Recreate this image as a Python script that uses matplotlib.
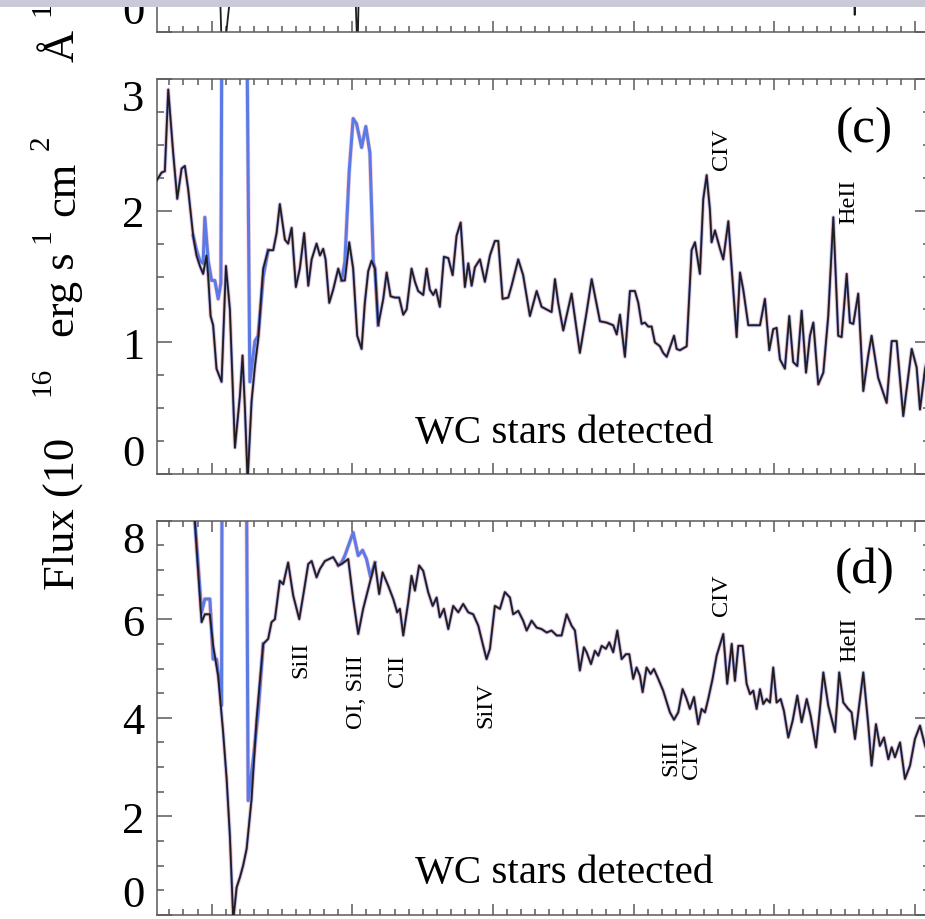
import numpy as np
import matplotlib
matplotlib.use("Agg")
from matplotlib import pyplot as plt
from matplotlib.ticker import MultipleLocator
from matplotlib.patches import Rectangle

# ---- panel (c): wavelength (A) and flux ----
wl_c = [1161.0, 1164.5, 1166.8, 1169.2, 1172.7, 1175.6, 1178.7, 1181.0, 1183.4, 1186.9,
        1189.3, 1191.7, 1194.0, 1196.4, 1197.6, 1199.3, 1201.1, 1203.5, 1207.1, 1210.2,
        1213.0, 1216.6, 1220.1, 1222.0, 1223.7, 1225.6, 1228.4, 1230.8, 1233.1, 1236.7,
        1240.2, 1243.8, 1246.2, 1248.5, 1252.1, 1254.4, 1256.9, 1259.9, 1262.7, 1265.8,
        1268.7, 1271.1, 1274.6, 1277.0, 1279.3, 1281.0, 1283.6, 1286.4, 1290.0, 1292.4,
        1294.7, 1297.8, 1300.6, 1303.5, 1306.6, 1308.9, 1311.3, 1313.7, 1316.1, 1318.4,
        1322.0, 1324.4, 1327.2, 1330.3, 1333.3, 1336.2, 1338.6, 1342.1, 1344.5, 1346.8,
        1350.4, 1352.8, 1355.1, 1357.5, 1359.4, 1362.2, 1365.1, 1368.2, 1371.3, 1374.1,
        1377.0, 1380.0, 1382.4, 1384.8, 1387.1, 1390.7, 1394.2, 1397.8, 1401.3, 1403.7,
        1406.8, 1410.8, 1413.2, 1417.9, 1421.4, 1426.2, 1431.0, 1434.5, 1438.1, 1441.6,
        1444.0, 1446.3, 1449.9, 1455.8, 1461.7, 1466.5, 1470.1, 1476.0, 1480.7, 1485.4,
        1487.9, 1490.2, 1493.7, 1497.3, 1500.8, 1503.2, 1505.6, 1507.9, 1510.3, 1512.7,
        1515.0, 1518.6, 1520.9, 1523.4, 1525.7, 1528.6, 1530.5, 1532.8, 1537.6, 1541.1,
        1543.5, 1547.0, 1549.4, 1551.8, 1554.1, 1555.3, 1557.7, 1561.3, 1563.6, 1567.2,
        1569.6, 1573.1, 1575.5, 1577.8, 1581.4, 1584.9, 1589.7, 1593.2, 1596.3, 1599.1,
        1601.5, 1603.9, 1607.4, 1610.5, 1613.3, 1616.2, 1619.3, 1622.4, 1625.2, 1627.6,
        1631.1, 1634.7, 1638.2, 1641.8, 1645.3, 1647.7, 1651.3, 1653.6, 1656.0, 1659.5,
        1663.1, 1666.6, 1669.0, 1673.7, 1679.7, 1683.3, 1686.8, 1691.5, 1697.5, 1701.0,
        1703.4, 1707.0, 1710.5]
flux_c = [2.23, 2.29, 2.30, 2.92, 2.44, 2.09, 2.32, 2.34, 2.16, 1.81,
          1.66, 1.58, 1.52, 1.66, 1.50, 1.20, 1.13, 0.80, 0.70, 1.58,
          1.25, 0.20, 0.59, 0.90, 0.50, -0.05, 0.55, 0.82, 1.02, 1.56,
          1.70, 1.70, 1.83, 2.05, 1.78, 1.75, 1.87, 1.42, 1.56, 1.83,
          1.43, 1.63, 1.75, 1.66, 1.71, 1.63, 1.30, 1.40, 1.56, 1.47,
          1.47, 1.76, 1.56, 1.05, 0.95, 1.30, 1.54, 1.62, 1.56, 1.13,
          1.33, 1.53, 1.35, 1.34, 1.34, 1.21, 1.25, 1.56, 1.46, 1.39,
          1.36, 1.56, 1.40, 1.36, 1.40, 1.27, 1.65, 1.64, 1.51, 1.81,
          1.91, 1.42, 1.60, 1.43, 1.57, 1.63, 1.46, 1.66, 1.77, 1.77,
          1.33, 1.34, 1.43, 1.63, 1.51, 1.20, 1.39, 1.27, 1.25, 1.23,
          1.48, 1.30, 1.09, 1.37, 0.92, 1.23, 1.48, 1.16, 1.15, 1.13,
          1.06, 1.21, 0.89, 1.39, 1.39, 1.30, 1.14, 1.15, 1.12, 1.12,
          1.00, 0.97, 0.92, 0.89, 0.96, 1.05, 0.95, 0.94, 0.97, 1.70,
          1.76, 1.52, 2.09, 2.27, 2.01, 1.76, 1.85, 1.71, 1.63, 1.92,
          1.56, 1.04, 1.53, 1.40, 1.13, 1.13, 1.13, 1.33, 0.94, 1.10,
          1.11, 0.87, 0.80, 1.20, 0.85, 0.82, 1.24, 0.77, 1.05, 1.15,
          0.68, 0.77, 1.20, 1.95, 1.05, 1.04, 1.52, 1.15, 1.14, 1.37,
          0.63, 0.90, 1.05, 0.73, 0.54, 1.01, 1.01, 0.44, 0.95, 0.81,
          0.49, 0.80, 0.95]

# blue spectrum where it departs from the black one
wl_c_blue1 = [1186.9, 1189.3, 1191.7, 1194.0, 1195.2, 1197.6, 1200.0, 1202.3, 1204.7,
              1206.6, 1207.5, 1216.0, 1224.6, 1227.2, 1230.8, 1233.1, 1236.7, 1240.2]
flux_c_blue1 = [1.81, 1.70, 1.62, 1.60, 1.95, 1.62, 1.47, 1.47, 1.33,
                1.45, 4.00, 4.00, 4.00, 0.70, 1.01, 1.05, 1.50, 1.70]
wl_c_blue2 = [1292.4, 1294.7, 1297.8, 1300.6, 1303.0, 1306.6, 1309.6, 1312.5, 1314.9,
              1316.1, 1318.4]
flux_c_blue2 = [1.47, 1.61, 2.30, 2.70, 2.66, 2.48, 2.64, 2.44, 1.61,
                1.56, 1.13]

# ---- panel (d) ----
wl_d = [1186.7, 1188.1, 1192.9, 1195.2, 1198.8, 1201.1, 1204.7, 1208.2, 1210.7, 1213.0,
        1215.4, 1217.8, 1220.1, 1222.4, 1224.9, 1228.4, 1232.0, 1236.7, 1240.2, 1242.6,
        1245.0, 1248.5, 1250.9, 1254.4, 1258.0, 1262.3, 1265.1, 1268.7, 1271.1, 1274.6,
        1277.0, 1280.5, 1286.4, 1290.0, 1292.4, 1297.1, 1300.6, 1304.2, 1307.7, 1312.5,
        1316.1, 1319.1, 1321.5, 1325.5, 1329.1, 1331.9, 1333.8, 1336.2, 1339.7, 1342.1,
        1344.5, 1347.5, 1350.4, 1353.9, 1357.1, 1359.9, 1362.2, 1365.1, 1368.2, 1371.7,
        1375.3, 1378.8, 1382.4, 1385.9, 1389.5, 1393.0, 1395.4, 1397.8, 1401.3, 1404.9,
        1408.4, 1412.0, 1414.3, 1417.9, 1421.4, 1423.9, 1427.4, 1431.0, 1434.5, 1438.1,
        1441.6, 1445.2, 1448.7, 1452.3, 1455.8, 1458.2, 1461.7, 1464.6, 1466.5, 1469.6,
        1472.4, 1474.8, 1477.2, 1480.2, 1482.6, 1485.4, 1488.3, 1491.4, 1494.4, 1496.8,
        1499.6, 1502.0, 1504.4, 1506.3, 1509.1, 1512.0, 1514.3, 1517.4, 1520.9, 1525.7,
        1528.6, 1531.6, 1534.7, 1537.1, 1539.9, 1542.8, 1545.8, 1548.2, 1550.6, 1552.9,
        1556.0, 1558.9, 1563.6, 1566.4, 1569.6, 1571.9, 1574.3, 1577.4, 1580.2, 1582.6,
        1584.9, 1587.3, 1589.7, 1592.0, 1594.4, 1596.8, 1599.1, 1601.5, 1604.4, 1606.7,
        1609.8, 1612.9, 1616.2, 1619.3, 1622.9, 1625.7, 1629.5, 1631.8, 1634.7, 1638.2,
        1643.0, 1646.0, 1648.9, 1652.4, 1654.8, 1657.2, 1660.2, 1663.1, 1666.6, 1669.0,
        1672.1, 1674.9, 1677.8, 1680.9, 1683.3, 1685.6, 1689.2, 1692.7, 1696.3, 1699.8,
        1703.4, 1707.0, 1710.5]
flux_d = [8.6, 8.0, 5.94, 6.10, 6.10, 5.46, 4.85, 3.71, 2.76, 1.61,
          -0.1, 0.56, 0.76, 1.00, 1.34, 2.35, 3.98, 5.50, 5.60, 5.94,
          6.00, 6.78, 6.71, 7.15, 6.48, 6.00, 6.48, 7.12, 7.18, 6.85,
          7.02, 7.18, 7.26, 7.09, 7.12, 7.22, 6.41, 5.70, 6.21, 6.75,
          7.15, 6.51, 6.95, 6.68, 6.41, 6.14, 6.21, 5.67, 6.34, 6.88,
          6.58, 7.09, 6.98, 6.55, 6.27, 6.44, 6.04, 6.21, 5.80, 6.27,
          6.14, 6.31, 6.14, 6.10, 5.87, 5.46, 5.19, 5.40, 6.27, 6.21,
          6.55, 6.44, 6.10, 6.17, 5.97, 5.77, 5.97, 5.83, 5.80, 5.73,
          5.77, 5.67, 5.67, 6.10, 5.87, 5.77, 4.96, 5.43, 5.33, 5.09,
          5.36, 5.26, 5.46, 5.40, 5.53, 5.33, 5.77, 5.19, 5.29, 5.29,
          4.79, 5.02, 4.85, 4.52, 5.02, 4.89, 4.99, 4.79, 4.55, 4.11,
          3.96, 4.11, 4.58, 4.42, 4.18, 4.42, 3.87, 4.18, 4.11, 4.38,
          4.79, 5.26, 5.70, 4.69, 5.50, 4.75, 5.46, 5.46, 4.69, 4.48,
          4.55, 4.18, 4.58, 4.28, 4.38, 4.31, 5.02, 4.31, 4.38, 4.14,
          3.60, 3.94, 4.45, 3.91, 4.38, 4.04, 3.40, 4.04, 4.92, 4.25,
          3.71, 4.92, 4.31, 4.18, 4.11, 3.57, 4.25, 4.92, 3.87, 3.03,
          3.87, 3.43, 3.60, 3.16, 3.40, 3.20, 3.50, 2.76, 3.03, 3.57,
          3.84, 3.43, 3.20]

wl_d_blue1 = [1186.7, 1188.1, 1192.9, 1195.2, 1198.8, 1201.1, 1203.5, 1205.9, 1207.1,
              1207.5, 1216.0, 1224.6, 1226.0, 1229.6, 1233.1, 1236.7]
flux_d_blue1 = [8.6, 8.0, 6.14, 6.41, 6.41, 5.19, 5.19, 4.65, 4.25,
                10.0, 10.0, 10.0, 2.32, 3.16, 4.11, 5.50]
wl_d_blue2 = [1290.0, 1292.4, 1294.7, 1300.6, 1304.2, 1307.3, 1310.1, 1313.0, 1316.1]
flux_d_blue2 = [7.09, 7.15, 7.29, 7.76, 7.29, 7.40, 7.22, 6.85, 7.15]

# ---- panel (b), only its lower edge is in view ----
wl_b = [1200.0, 1204.0, 1206.0, 1207.0, 1210.0, 1211.5, 1213.0, 1216.0, 1300.0, 1303.3,
        1303.9, 1306.0, 1654.0, 1657.0, 1660.0]
flux_b = [1.0, 1.0, 0.30, -0.05, -0.05, 0.10, 0.25, 1.0, 1.0, -0.05,
          -0.05, 1.0, 1.0, 0.13, 1.0]

# ---- annotations: (name, wavelength, flux at label edge) ----
lines_c = [("CIV", 1562.3, 2.32), ("HeII", 1653.0, 1.91)]
lines_d = [("SiII", 1263.5, 5.56), ("OI, SiII", 1303.3, 5.29), ("CII", 1332.4, 5.29),
           ("SiIV", 1395.0, 4.75), ("SiII\nCIV", 1533.5, 3.63), ("CIV", 1562.7, 6.92),
           ("HeII", 1653.6, 6.06)]

# y-axis title pieces: (text, is_superscript, start in figure pixels from top)
ylabel_parts = [("Flux (10", False, 590), ("16", True, 396), ("erg s", False, 337),
                ("1", True, 243), ("cm", False, 216), ("2", True, 150),
                ("Å", False, 62), ("1", True, 16)]

BLACK = "#1e1e1e"
BLUE = "#5a7ae6"
PINK = "#f3a9bb"
SPINE = "#5a5a5a"
SERIF = ["Liberation Serif", "DejaVu Serif"]
W, H = 925, 920


def style_axis(ax, ymax, ymajor, yminor):
    ax.set_xlim(1161, 1710.5)
    ax.set_ylim(0, ymax)
    ax.xaxis.set_major_locator(MultipleLocator(100))
    ax.xaxis.set_minor_locator(MultipleLocator(10))
    ax.yaxis.set_minor_locator(MultipleLocator(yminor))
    ax.tick_params(which="both", direction="in", top=True, right=True,
                   color=SPINE, width=1.1, labelbottom=False)
    ax.tick_params(axis="x", which="major", length=8)
    ax.tick_params(axis="x", which="minor", length=4)
    ax.tick_params(axis="y", which="major", length=10.5, labelsize=32, pad=9)
    ax.tick_params(axis="y", which="minor", length=5)
    for sp in ax.spines.values():
        sp.set_color(SPINE)
        sp.set_linewidth(1.1)
    vals = np.arange(0, ymax + 0.01, ymajor)
    ax.set_yticks(vals)
    ax.set_yticklabels([f"{v:g}" for v in vals])
    ticks = ax.yaxis.get_major_ticks()
    ticks[0].label1.set_va("bottom")
    ticks[-1].label1.set_va("top")


def draw_spec(ax, wl, fl, blues):
    ax.plot(wl, fl, color=PINK, lw=3.2, alpha=0.45, zorder=1)
    for bw, bf in blues:
        ax.plot(bw, bf, color=PINK, lw=3.2, alpha=0.6, zorder=1)
        ax.plot(bw, bf, color=BLUE, lw=2.2, zorder=2)
    ax.plot(wl, fl, color=BLUE, lw=2.0, alpha=0.6, zorder=2)
    ax.plot(wl, fl, color=BLACK, lw=1.3, zorder=3)


def main():
    plt.rcParams["font.family"] = SERIF

    fig = plt.figure(figsize=(W / 100, H / 100), dpi=100)
    fig.patch.set_facecolor("white")

    left, width = 0.1694, 0.836
    ax_b = fig.add_axes([left, 0.9641, width, 0.4293])
    ax_c = fig.add_axes([left, 0.4837, width, 0.4293])
    ax_d = fig.add_axes([left, 0.0044, width, 0.4286])

    style_axis(ax_b, 3, 1, 0.25)
    style_axis(ax_c, 3, 1, 0.25)
    style_axis(ax_d, 8, 2, 0.5)
    ax_b.set_yticks([0])
    ax_b.set_yticklabels(["0"])
    ax_b.yaxis.get_major_ticks()[0].label1.set_va("bottom")

    ax_b.plot(wl_b, flux_b, color=BLACK, lw=1.3)
    draw_spec(ax_c, wl_c, flux_c, [(wl_c_blue1, flux_c_blue1), (wl_c_blue2, flux_c_blue2)])
    draw_spec(ax_d, wl_d, flux_d, [(wl_d_blue1, flux_d_blue1), (wl_d_blue2, flux_d_blue2)])

    ax_c.text(1664.0, 2.62, "(c)", fontsize=37, ha="center", va="center")
    ax_d.text(1664.0, 7.0, "(d)", fontsize=37, ha="center", va="center")
    ax_c.text(0.527, 0.08, "WC stars detected", transform=ax_c.transAxes,
              fontsize=29.5, ha="center", va="baseline")
    ax_d.text(0.527, 0.083, "WC stars detected", transform=ax_d.transAxes,
              fontsize=29.5, ha="center", va="baseline")

    for name, x, y in lines_c:
        ax_c.text(x, y, name, fontsize=17.5, rotation=90, ha="center", va="bottom",
                  linespacing=0.95)
    for name, x, y in lines_d:
        ax_d.text(x, y, name, fontsize=17.5, rotation=90, ha="center", va="top",
                  linespacing=0.95)

    # rotated y title, built from pieces so the gaps of the original are kept
    for txt, sup, y0 in ylabel_parts:
        xb = 49 if sup else 74
        fig.text(xb / W, 1 - y0 / H, txt, fontsize=21 if sup else 32, rotation=90,
                 rotation_mode="anchor", ha="left", va="baseline")

    fig.patches.append(Rectangle((0, 0.991), 1, 0.009, transform=fig.transFigure,
                                 facecolor="#c9c9d8", edgecolor="none", zorder=5))

    fig.savefig("out.png", dpi=100)


if __name__ == "__main__":
    main()
